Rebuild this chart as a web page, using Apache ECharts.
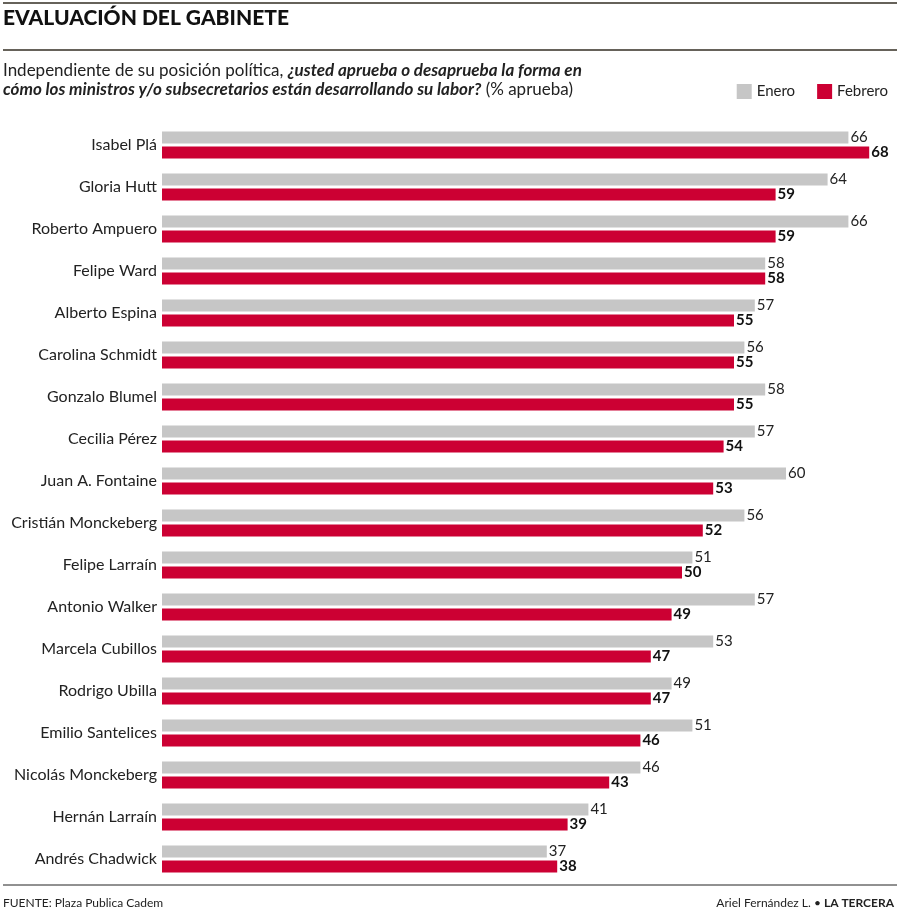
<!DOCTYPE html>
<html><head><meta charset="utf-8">
<script src="https://cdn.jsdelivr.net/npm/echarts@6/dist/echarts.min.js"></script>
<style>html,body{margin:0;padding:0;background:#fff}#c{width:900px;height:914px}</style>
</head><body><div id="c"></div>
<script>
const categories = ["Isabel Plá","Gloria Hutt","Roberto Ampuero","Felipe Ward","Alberto Espina","Carolina Schmidt","Gonzalo Blumel","Cecilia Pérez","Juan A. Fontaine","Cristián Monckeberg","Felipe Larraín","Antonio Walker","Marcela Cubillos","Rodrigo Ubilla","Emilio Santelices","Nicolás Monckeberg","Hernán Larraín","Andrés Chadwick"];
const enero = [66,64,66,58,57,56,58,57,60,56,51,57,53,49,51,46,41,37];
const febrero = [68,59,59,58,55,55,55,54,53,52,50,49,47,47,46,43,39,38];
const seriesNames = ["Enero","Febrero"];

const GREY = '#c6c6c6', RED = '#cc0033';
const FONT = 'Lato, "Open Sans", sans-serif';
const chart = echarts.init(document.getElementById('c'), null, {renderer:'canvas'});
chart.setOption({
  animation:false,
  backgroundColor:'#fff',
  textStyle:{fontFamily:FONT},
  graphic:[
    {type:'line', shape:{x1:3,y1:3,x2:897,y2:3}, style:{stroke:'#66625a', lineWidth:2}},
    {type:'text', left:3, top:8, style:{text:'EVALUACIÓN DEL GABINETE', font:'900 21px '+FONT, fill:'#111'}},
    {type:'line', shape:{x1:3,y1:50,x2:897,y2:50}, style:{stroke:'#66625a', lineWidth:2}},
    {type:'text', left:3, top:61, style:{
      text:'Independiente de su posición política, {b|¿usted aprueba o desaprueba la forma en}\n{b|cómo los ministros y/o subsecretarios están desarrollando su labor?} (% aprueba)',
      font:'17px '+FONT, fill:'#222', lineHeight:19,
      rich:{b:{fontFamily:FONT, fontSize:17, fontWeight:'bold', fontStyle:'italic', fill:'#222', lineHeight:19}}
    }},
    {type:'line', shape:{x1:3,y1:885,x2:897,y2:885}, style:{stroke:'#222', lineWidth:1}},
    {type:'text', left:3, top:897, style:{text:'FUENTE: Plaza Publica Cadem', font:'12px '+FONT, fill:'#222'}},
    {type:'text', right:6, top:897, style:{text:'Ariel Fernández L. • {b|LA TERCERA}', font:'12px '+FONT, fill:'#222',
      rich:{b:{fontFamily:FONT, fontSize:12, fontWeight:'bold', fill:'#222'}}}}
  ],
  legend:{
    right:12, top:84, padding:0, itemWidth:15, itemHeight:15, itemGap:22, icon:'rect',
    textStyle:{fontSize:15, color:'#222', fontFamily:FONT},
    data:seriesNames
  },
  grid:{left:162, top:124, width:728, height:756, containLabel:false},
  xAxis:{type:'value', min:0, max:70, show:false},
  yAxis:{type:'category', data:categories, inverse:true,
    axisLine:{show:false}, axisTick:{show:false},
    axisLabel:{fontSize:16, color:'#222', margin:5, fontFamily:FONT}},
  series:[
    {name:seriesNames[0], type:'bar', data:enero, barWidth:12, barGap:'25%',
      itemStyle:{color:GREY},
      label:{show:true, position:'right', distance:2, fontSize:15, color:'#222', fontFamily:FONT}},
    {name:seriesNames[1], type:'bar', data:febrero, barWidth:12,
      itemStyle:{color:RED},
      label:{show:true, position:'right', distance:2, fontSize:15, fontWeight:'bold', color:'#111', fontFamily:FONT}}
  ]
});
</script></body></html>
